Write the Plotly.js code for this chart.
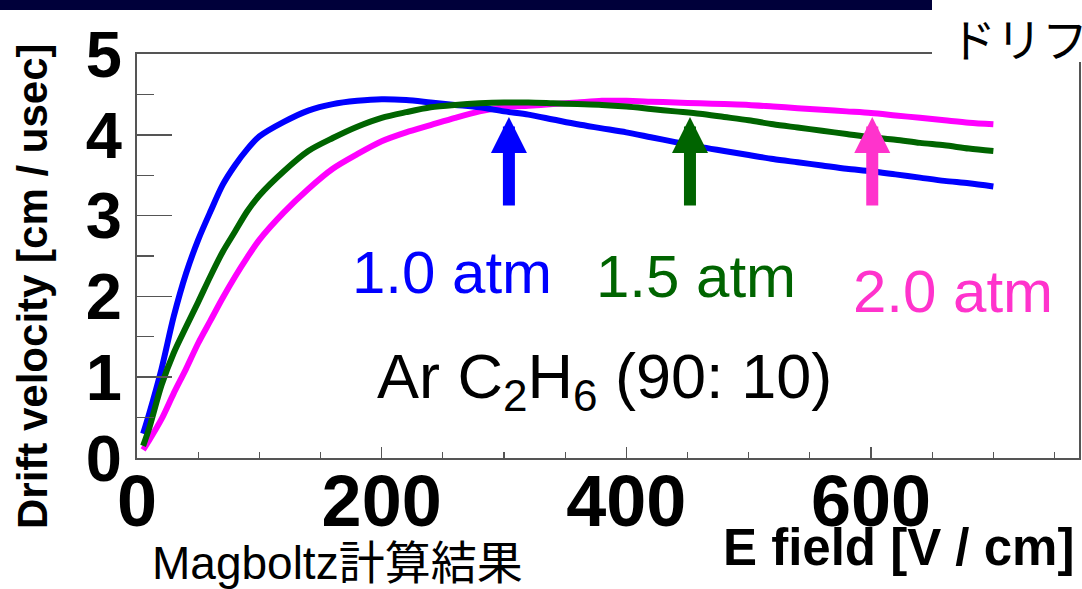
<!DOCTYPE html>
<html>
<head>
<meta charset="utf-8">
<script src="https://cdn.plot.ly/plotly-3.0.1.min.js"></script>
<style>html,body{margin:0;padding:0;background:#fff;}#chart{width:1082px;height:589px;}</style>
</head>
<body>
<div id="chart"></div>
<script>
// E field [V/cm]
const efield = [5,10,20,30,40,50,60,70,80,90,100,120,140,160,180,200,220,240,260,280,300,320,340,360,380,400,420,440,460,480,500,520,540,560,580,600,620,640,660,680,700];
// Drift velocity [cm/usec]
const v10 = [0.30,0.55,1.10,1.75,2.28,2.70,3.05,3.38,3.62,3.82,3.98,4.16,4.30,4.38,4.42,4.44,4.43,4.40,4.37,4.34,4.29,4.25,4.19,4.13,4.08,4.03,3.97,3.91,3.85,3.80,3.75,3.70,3.66,3.62,3.58,3.55,3.51,3.47,3.43,3.40,3.36];
const v15 = [0.15,0.37,0.90,1.30,1.62,1.93,2.25,2.55,2.80,3.05,3.25,3.55,3.80,3.96,4.10,4.21,4.28,4.34,4.37,4.39,4.40,4.40,4.39,4.38,4.37,4.35,4.32,4.29,4.26,4.22,4.18,4.13,4.09,4.05,4.01,3.97,3.94,3.90,3.87,3.83,3.80];
const v20 = [0.10,0.22,0.48,0.80,1.10,1.42,1.70,1.98,2.24,2.48,2.70,3.04,3.33,3.58,3.76,3.92,4.03,4.12,4.21,4.29,4.34,4.36,4.38,4.40,4.42,4.42,4.41,4.40,4.39,4.38,4.37,4.35,4.33,4.31,4.29,4.27,4.24,4.21,4.18,4.15,4.13];
const seriesNames = ['1.0 atm','1.5 atm','2.0 atm'];
const arrowX = [304, 452, 601];
const xTicks = [0,200,400,600];
const yTicks = [0,1,2,3,4,5];

const L=137, T=54, W=942, H=404;
const px = p => (p - L)/W;
const py = p => (T + H - p)/H;

const cBlue='#0000ff', cGreen='#006400', cMag='#ff00ff', cPink='#ff33cc';

const traces = [
  {x: efield, y: v20, mode:'lines', line:{color:cMag, width:6, shape:'spline', smoothing:0.8}, name: seriesNames[2]},
  {x: efield, y: v10, mode:'lines', line:{color:cBlue, width:6, shape:'spline', smoothing:0.8}, name: seriesNames[0]},
  {x: efield, y: v15, mode:'lines', line:{color:cGreen, width:6, shape:'spline', smoothing:0.8}, name: seriesNames[1]}
];

const arrowColors=[cBlue,cGreen,cPink];
const ann = [];
arrowX.forEach((ax,i)=>{
  ann.push({x: ax, y: 4.22, xref:'x', yref:'y', text:'', showarrow:true, arrowhead:2, arrowsize:0.6, arrowwidth:12, arrowcolor: arrowColors[i], ax:0, ay:90});
});
const big = {family:'Liberation Sans, Arial, sans-serif', size:60};
ann.push({x:px(452), y:py(272), xref:'paper', yref:'paper', text:seriesNames[0], showarrow:false, font:Object.assign({}, big, {color:cBlue}), xanchor:'center', yanchor:'middle'});
ann.push({x:px(696), y:py(276), xref:'paper', yref:'paper', text:seriesNames[1], showarrow:false, font:Object.assign({}, big, {color:cGreen}), xanchor:'center', yanchor:'middle'});
ann.push({x:px(953), y:py(291), xref:'paper', yref:'paper', text:seriesNames[2], showarrow:false, font:Object.assign({}, big, {color:cPink}), xanchor:'center', yanchor:'middle'});
ann.push({x:px(375), y:py(380), xref:'paper', yref:'paper', text:'Ar C<sub>2</sub>H<sub>6</sub> (90: 10)', showarrow:false, font:{family:'Liberation Sans, Arial, sans-serif', size:63, color:'#000'}, xanchor:'left', yanchor:'middle'});
ann.push({x:px(150), y:py(563), xref:'paper', yref:'paper', text:'Magboltz計算結果', showarrow:false, font:{family:'Liberation Sans, Noto Sans CJK JP, sans-serif', size:46, color:'#000'}, xanchor:'left', yanchor:'middle'});
ann.push({x:px(1076), y:py(547), xref:'paper', yref:'paper', text:'<b>E field [V / cm]</b>', showarrow:false, font:{family:'Liberation Sans, Arial, sans-serif', size:51, color:'#000'}, xanchor:'right', yanchor:'middle'});
ann.push({x:px(32), y:py(287), xref:'paper', yref:'paper', text:'<b>Drift velocity [cm / usec]</b>', textangle:-90, showarrow:false, font:{family:'Liberation Sans, Arial, sans-serif', size:42, color:'#000'}, xanchor:'center', yanchor:'middle'});
ann.push({x:px(948), y:py(37), xref:'paper', yref:'paper', text:'ドリフト速度', showarrow:false, font:{family:'Noto Sans CJK JP, sans-serif', size:46, color:'#000'}, xanchor:'left', yanchor:'middle'});

const shapes = [
  {type:'rect', xref:'paper', yref:'paper', x0:px(0), x1:px(932), y0:py(10), y1:py(0), fillcolor:'#00003a', line:{width:0}, layer:'above'},
  {type:'rect', xref:'paper', yref:'paper', x0:px(932), x1:px(1090), y0:py(62), y1:py(0), fillcolor:'#ffffff', line:{width:0}, layer:'above'}
];

const layout = {
  width:1082, height:589,
  margin:{l:L, r:1082-L-W, t:T, b:589-T-H, pad:0},
  paper_bgcolor:'#fff', plot_bgcolor:'#fff',
  showlegend:false,
  xaxis:{range:[0,770], tickvals:xTicks, ticktext:xTicks.map(String), ticks:'inside', ticklen:11, tickwidth:1.5, tickcolor:'#555',
    minor:{dtick:50, tick0:0, ticks:'inside', ticklen:6, tickwidth:1.2, tickcolor:'#555', showgrid:false},
    showline:true, linecolor:'#555', linewidth:2, mirror:true, showgrid:false, zeroline:false,
    ticklabelstandoff:-20,
    tickfont:{family:'Liberation Sans, Arial, sans-serif', size:72, color:'#000', weight:'bold'}},
  yaxis:{range:[0,5], tickvals:yTicks, ticktext:yTicks.map(String), ticks:'inside', ticklen:35, tickwidth:1.5, tickcolor:'#555',
    minor:{dtick:0.5, tick0:0, ticks:'inside', ticklen:17, tickwidth:1.2, tickcolor:'#555', showgrid:false},
    showline:true, linecolor:'#555', linewidth:2, mirror:true, showgrid:false, zeroline:false,
    tickfont:{family:'Liberation Sans, Arial, sans-serif', size:65, color:'#000', weight:'bold'}},
  annotations: ann,
  shapes: shapes
};
Plotly.newPlot('chart', traces, layout, {staticPlot:true, displayModeBar:false});
</script>
</body>
</html>
